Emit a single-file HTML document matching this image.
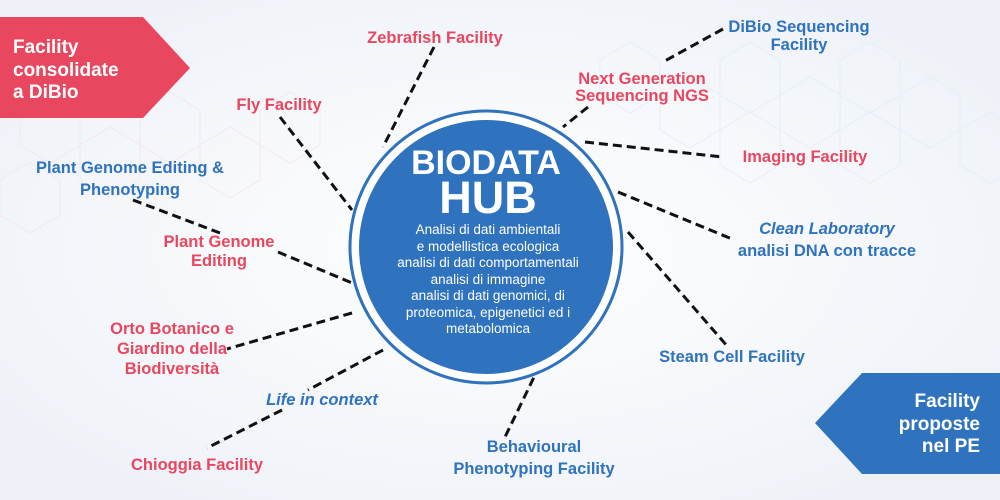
<!DOCTYPE html>
<html><head><meta charset="utf-8"><style>
body{margin:0;width:1000px;height:500px;overflow:hidden;background:#f7f8fb;font-family:"Liberation Sans",sans-serif}
svg{display:block}
text{font-family:"Liberation Sans",sans-serif;font-weight:bold}
.r{fill:#e8475f;font-size:16.5px}
.b{fill:#2f72bd;font-size:16.5px}
.l{stroke:#111;stroke-width:3;stroke-dasharray:9 5;fill:none}
.w{fill:#fff;font-weight:normal;font-size:13.5px}
</style></head><body>
<svg width="1000" height="500" viewBox="0 0 1000 500">
<defs>
<radialGradient id="bg" cx="50%" cy="50%" r="60%"><stop offset="0" stop-color="#ffffff"/><stop offset="1" stop-color="#eef2f8"/></radialGradient>
</defs>
<rect width="1000" height="500" fill="url(#bg)"/>
<g stroke="#e6edf6" stroke-width="1.2" fill="none" opacity="0.7">
<path d="M600 60 l30 -18 l30 18 v35 l-30 18 l-30 -18z M660 95 l30 -18 l30 18 v35 l-30 18 l-30 -18z M720 60 l30 -18 l30 18 v35 l-30 18 l-30 -18z M780 95 l30 -18 l30 18 v35 l-30 18 l-30 -18z M840 60 l30 -18 l30 18 v35 l-30 18 l-30 -18z M900 95 l30 -18 l30 18 v35 l-30 18 l-30 -18z M720 130 l30 -18 l30 18 v35 l-30 18 l-30 -18z M840 130 l30 -18 l30 18 v35 l-30 18 l-30 -18z M960 130 l30 -18 l30 18 v35 l-30 18 l-30 -18z"/>
</g>
<g stroke="#f5e6ea" stroke-width="1.2" fill="none" opacity="0.7">
<path d="M20 110 l30 -18 l30 18 v35 l-30 18 l-30 -18z M80 145 l30 -18 l30 18 v35 l-30 18 l-30 -18z M140 110 l30 -18 l30 18 v35 l-30 18 l-30 -18z M200 145 l30 -18 l30 18 v35 l-30 18 l-30 -18z M260 110 l30 -18 l30 18 v35 l-30 18 l-30 -18z M0 180 l30 -18 l30 18 v35 l-30 18 l-30 -18z"/>
</g>
<!-- banners -->
<polygon points="0,17 143,17 190,68 143,118 0,118" fill="#e8475f"/>
<text x="13" y="53" fill="#fff" font-size="19">Facility</text>
<text x="13" y="76" fill="#fff" font-size="19">consolidate</text>
<text x="13" y="98" fill="#fff" font-size="19">a DiBio</text>
<polygon points="1000,373 862,373 815,423 862,474 1000,474" fill="#2f72bd"/>
<text x="980" y="407" fill="#fff" font-size="19" text-anchor="end">Facility</text>
<text x="980" y="430" fill="#fff" font-size="19" text-anchor="end">proposte</text>
<text x="980" y="452" fill="#fff" font-size="19" text-anchor="end">nel PE</text>
<!-- lines -->
<g class="l">
<line x1="434" y1="47" x2="383" y2="147"/>
<line x1="280" y1="117" x2="352" y2="210"/>
<line x1="133" y1="200" x2="220" y2="233"/>
<line x1="278" y1="252" x2="357" y2="285"/>
<line x1="352" y1="313" x2="227" y2="349"/>
<line x1="383" y1="350" x2="308" y2="390"/>
<line x1="282" y1="410" x2="207" y2="448"/>
<line x1="552" y1="340" x2="505" y2="437"/>
<line x1="723" y1="29" x2="663" y2="62"/>
<line x1="588" y1="107" x2="563" y2="127"/>
<line x1="585" y1="142" x2="723" y2="157"/>
<line x1="618" y1="192" x2="732" y2="239"/>
<line x1="628" y1="232" x2="728" y2="347"/>
</g>
<!-- circle -->
<circle cx="486" cy="247" r="136" fill="#fff" stroke="#2f72bd" stroke-width="3"/>
<circle cx="486" cy="247" r="127" fill="#2f72bd"/>
<text x="486" y="174" fill="#fff" font-size="34" text-anchor="middle">BIODATA</text>
<text x="488" y="213" fill="#fff" font-size="45" text-anchor="middle">HUB</text>
<g text-anchor="middle">
<text class="w" x="488" y="234">Analisi di dati ambientali</text>
<text class="w" x="488" y="251">e modellistica ecologica</text>
<text class="w" x="488" y="267">analisi di dati comportamentali</text>
<text class="w" x="488" y="284">analisi di immagine</text>
<text class="w" x="488" y="300">analisi di dati genomici, di</text>
<text class="w" x="488" y="317">proteomica,  epigenetici ed i</text>
<text class="w" x="488" y="333">metabolomica</text>
</g>
<!-- labels -->
<g text-anchor="middle">
<text class="r" x="435" y="43">Zebrafish Facility</text>
<text class="r" x="279" y="110">Fly Facility</text>
<text class="b" x="130" y="173">Plant Genome Editing &amp;</text>
<text class="b" x="130" y="195">Phenotyping</text>
<text class="r" x="219" y="247">Plant Genome</text>
<text class="r" x="219" y="266">Editing</text>
<text class="r" x="172" y="334">Orto Botanico e</text>
<text class="r" x="172" y="354">Giardino della</text>
<text class="r" x="172" y="374">Biodiversità</text>
<text class="b" x="322" y="405" font-style="italic">Life in context</text>
<text class="r" x="197" y="470">Chioggia Facility</text>
<text class="b" x="534" y="452">Behavioural</text>
<text class="b" x="534" y="474">Phenotyping Facility</text>
<text class="b" x="799" y="32">DiBio Sequencing</text>
<text class="b" x="799" y="50">Facility</text>
<text class="r" x="642" y="84">Next Generation</text>
<text class="r" x="642" y="101">Sequencing NGS</text>
<text class="r" x="805" y="162">Imaging Facility</text>
<text class="b" x="827" y="234" font-style="italic">Clean Laboratory</text>
<text class="b" x="827" y="256">analisi DNA con tracce</text>
<text class="b" x="732" y="362">Steam Cell Facility</text>
</g>
</svg>
</body></html>
